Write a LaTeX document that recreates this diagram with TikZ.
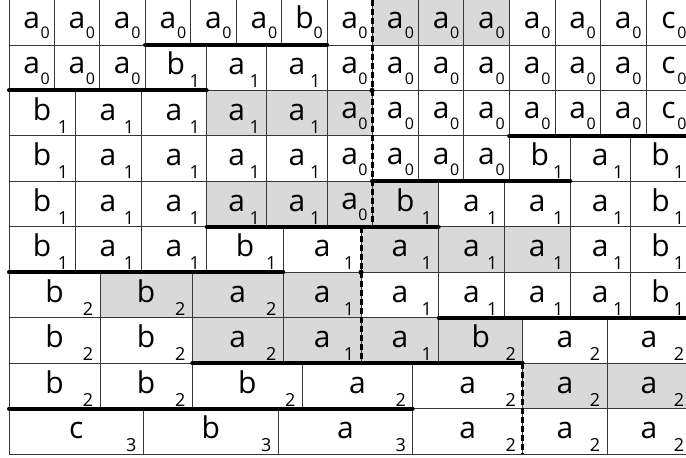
\documentclass[tikz,border=0pt]{standalone}
\usepackage{fontspec}
\setmainfont{Open Sans}
\usepackage{tikz}
\usetikzlibrary{positioning}
\definecolor{shade}{RGB}{217, 217, 217}
\definecolor{gridgray}{RGB}{55, 55, 55}

% one row of cells: #1 row number, #2 list xa/xb/letter/index/fill
\newcommand{\cellrow}[2]{%
    \pgfmathsetmacro{\yt}{-0.5+(#1-1)*45.45}
    \pgfmathsetmacro{\yb}{\yt+45.45}
    \foreach \xa/\xb/\l/\d/\f [count=\i] in {#2} {
        \ifnum\d=0 \def\dx{9}\def\dy{6}\def\ly{28.5}\def\ix{index0}\else \def\dx{12}\def\dy{2.5}\def\ly{30}\def\ix{index}\fi
        \filldraw[cell, fill=\f] (\xa,\yt) rectangle (\xb,\yb);
        \node[letter] (l#1-\i) at ({(\xa+\xb)/2},{\yt+\ly}) {\l};
        \node[\ix] (s#1-\i) at ({\xb-\dx},{\yb-\dy}) {\d};
    }
}

\begin{document}
\begin{tikzpicture}[x=1pt, y=-1pt,
    cell/.style={draw=gridgray, line width=0.8pt},
    letter/.style={font=\fontsize{30}{30}\selectfont, inner sep=0pt, anchor=base},
    index/.style={font=\fontsize{18}{18}\selectfont, inner sep=0pt, anchor=base},
    index0/.style={index, font=\fontsize{16}{16}\selectfont},
    bar/.style={line width=4pt, line cap=round},
    split/.style={line width=3pt, dash pattern=on 6pt off 3pt}]
    \useasboundingbox (0,0) rectangle (686,458);
    \clip (0,0) rectangle (686,458);
    % Level 0 rows
    \cellrow{1}{9/54.3/a/0/white, 54.3/99.5/a/0/white, 99.5/145/a/0/white, 145/190.7/a/0/white, 190.7/236/a/0/white, 236/281.7/a/0/white, 281.7/327.2/b/0/white, 327.2/372/a/0/white, 372/418.5/a/0/shade, 418.5/463.7/a/0/shade, 463.7/509.2/a/0/shade, 509.2/555/a/0/white, 555/600.3/a/0/white, 600.3/646/a/0/white, 646/691/c/0/white}
    \cellrow{2}{9/54.3/a/0/white, 54.3/99.5/a/0/white, 99.5/145/a/0/white, 145/206.7/b/1/white, 206.7/266.7/a/1/white, 266.7/327.2/a/1/white, 327.2/372/a/0/white, 372/418.5/a/0/white, 418.5/463.7/a/0/white, 463.7/509.2/a/0/white, 509.2/555/a/0/white, 555/600.3/a/0/white, 600.3/646/a/0/white, 646/691/c/0/white}
    \cellrow{3}{9/75/b/1/white, 75/141/a/1/white, 141/206.7/a/1/white, 206.7/266.7/a/1/shade, 266.7/327.2/a/1/shade, 327.2/372/a/0/shade, 372/418.5/a/0/white, 418.5/463.7/a/0/white, 463.7/509.2/a/0/white, 509.2/555/a/0/white, 555/600.3/a/0/white, 600.3/646/a/0/white, 646/691/c/0/white}
    % Level 1 rows
    \cellrow{4}{9/75/b/1/white, 75/141/a/1/white, 141/206.7/a/1/white, 206.7/266.7/a/1/white, 266.7/327.2/a/1/white, 327.2/372/a/0/white, 372/418.5/a/0/white, 418.5/463.7/a/0/white, 463.7/509.2/a/0/white, 509.2/570.3/b/1/white, 570.3/630.3/a/1/white, 630.3/691/b/1/white}
    \cellrow{5}{9/75/b/1/white, 75/141/a/1/white, 141/206.7/a/1/white, 206.7/266.7/a/1/shade, 266.7/327.2/a/1/shade, 327.2/372/a/0/shade, 372/438.7/b/1/shade, 438.7/504.3/a/1/white, 504.3/570.3/a/1/white, 570.3/630.3/a/1/white, 630.3/691/b/1/white}
    \cellrow{6}{9/75/b/1/white, 75/141/a/1/white, 141/206.7/a/1/white, 206.7/283.3/b/1/white, 283.3/361/a/1/white, 361/438.7/a/1/shade, 438.7/504.3/a/1/shade, 504.3/570.3/a/1/shade, 570.3/630.3/a/1/white, 630.3/691/b/1/white}
    % Level 2 rows
    \cellrow{7}{9/100/b/2/white, 100/192.3/b/2/shade, 192.3/283.3/a/2/shade, 283.3/361/a/1/shade, 361/438.7/a/1/white, 438.7/504.3/a/1/white, 504.3/570.3/a/1/white, 570.3/630.3/a/1/white, 630.3/691/b/1/white}
    \cellrow{8}{9/100/b/2/white, 100/192.3/b/2/white, 192.3/283.3/a/2/shade, 283.3/361/a/1/shade, 361/438.7/a/1/shade, 438.7/522.7/b/2/shade, 522.7/607/a/2/white, 607/691/a/2/white}
    \cellrow{9}{9/100/b/2/white, 100/192.3/b/2/white, 192.3/302.3/b/2/white, 302.3/412.7/a/2/white, 412.7/522.7/a/2/white, 522.7/607/a/2/shade, 607/691/a/2/shade}
    % Level 3 row
    \cellrow{10}{9/143.3/c/3/white, 143.3/278.3/b/3/white, 278.3/412.7/a/3/white, 412.7/522.7/a/2/white, 522.7/607/a/2/white, 607/691/a/2/white}
    % Thick borders between levels
    \foreach \y/\xa/\xb in {44.95/145/327.2, 90.4/9/206.7, 135.85/509.2/691, 181.3/372/570.3, 226.75/206.7/438.7, 272.2/9/283.3, 317.65/438.7/691, 363.1/192.3/522.7, 408.55/9/412.7} {
        \draw[bar] (\xa,\y) -- (\xb,\y);
    }
    % Dashed split line
    \draw[split] (372,-0.5) -- (372,226.75);
    \draw[split] (361,226.75) -- (361,363.1);
    \draw[split] (522.7,363.1) -- (522.7,454);
    \fill (372,90.4) circle (2.6);
    \fill (361,272.2) circle (2.6);
\end{tikzpicture}
\end{document}
